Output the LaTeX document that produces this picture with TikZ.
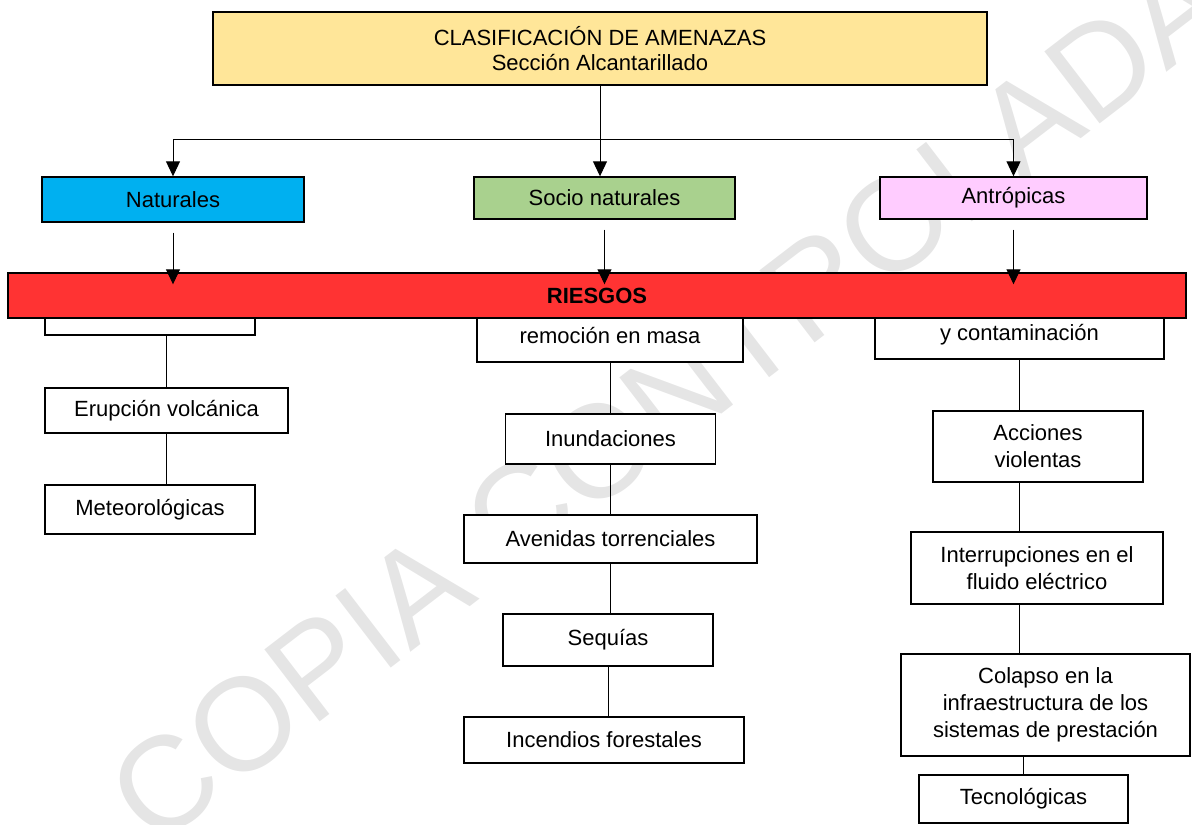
\documentclass[tikz,border=0pt]{standalone}
\usepackage{fontspec}
\setmainfont{Liberation Sans}
\usetikzlibrary{arrows.meta}

\definecolor{titleyellow}{HTML}{FFE699}
\definecolor{natblue}{HTML}{00B0F0}
\definecolor{socgreen}{HTML}{A9D18E}
\definecolor{antpink}{HTML}{FFCCFF}
\definecolor{riskred}{HTML}{FF3333}

\begin{document}
\begin{tikzpicture}[x = 0.5pt, y = -0.5pt,
  box/.style = {draw, shape = rectangle, fill = white, line width = 0.7pt, inner sep = 0pt, align = center, font = \fontsize{11}{13.5}\selectfont},
  link/.style = {line width = 0.5pt},
  arr/.style = {link, -{Triangle[length = 7.5pt, width = 7pt]}}]
\useasboundingbox (0,0) rectangle (1192,824);
% watermark behind everything
\node[rotate = 37.5, text = gray!20, font = \fontsize{66}{66}\selectfont] (mark) at (668,398) {COPIA CONTROLADA};

\node[box, fill = titleyellow, minimum width = 387pt, minimum height = 36.5pt, font = \fontsize{11}{12.6}\selectfont] (title) at (600,48.5) {CLASIFICACIÓN DE AMENAZAS\\Sección Alcantarillado};
\node[box, fill = natblue, minimum width = 131pt, minimum height = 22.5pt] (nat) at (173,199.5) {Naturales};
\node[box, fill = socgreen, minimum width = 130.5pt, minimum height = 21pt] (soc) at (604.5,198) {Socio naturales};
\node[box, fill = antpink, minimum width = 133.5pt, minimum height = 21pt] (ant) at (1013.5,198) {Antrópicas};

% boxes half covered by the red band
\node[box, minimum width = 105pt, minimum height = 22.5pt] (lhid) at (150,312.5) {};
\node[box, minimum width = 133pt, minimum height = 26pt] (mhid) at (610,336) {remoción en masa};
\node[box, minimum width = 144.5pt, minimum height = 24pt] (rhid) at (1019.5,335) {y contaminación};
\node[box, fill = riskred, minimum width = 589pt, minimum height = 22.5pt, font = \fontsize{11}{13.5}\selectfont\bfseries] (riesgos) at (597,295.5) {RIESGOS};

% naturales
\node[box, minimum width = 121.5pt, minimum height = 22.5pt] (erup) at (166.5,410.5) {Erupción volcánica};
\node[box, minimum width = 105pt, minimum height = 24.5pt] (meteo) at (150,509.5) {Meteorológicas};
% socio naturales
\node[box, minimum width = 105pt, minimum height = 25pt] (inun) at (610.5,439) {Inundaciones};
\node[box, minimum width = 146.5pt, minimum height = 24pt] (aven) at (610.5,539) {Avenidas torrenciales};
\node[box, minimum width = 105pt, minimum height = 26pt] (seq) at (608,640) {Sequías};
\node[box, minimum width = 140pt, minimum height = 23pt] (inc) at (604,740) {Incendios forestales};
% antropicas
\node[box, minimum width = 105pt, minimum height = 35.5pt] (acc) at (1038,446.5) {Acciones\\violentas};
\node[box, minimum width = 126pt, minimum height = 36pt] (intr) at (1037,568) {Interrupciones en el\\fluido eléctrico};
\node[box, minimum width = 144.5pt, minimum height = 51pt] (col) at (1045.5,705) {Colapso en la\\infraestructura de los\\sistemas de prestación};
\node[box, minimum width = 104.5pt, minimum height = 24pt] (tec) at (1023.5,799) {Tecnológicas};

% top split
\coordinate (split) at (600,139);
\draw[link] (title) -- (split);
\draw[arr] (split) -| (nat.north);
\draw[arr] (split) -- (split |- soc.north);
\draw[arr] (split) -| (ant.north);
\foreach \n in {nat, soc, ant}
  \draw[arr, shorten <= 5pt, shorten >= -6pt] (\n.south) -- (\n.south |- riesgos.north);

% chains
\draw[link] (erup.north) -- (erup.north |- lhid.south);
\draw[link] (erup.south) -- (erup.south |- meteo.north);
\draw[link] (inun.north) -- (inun.north |- mhid.south);
\draw[link] (inun.south) -- (inun.south |- aven.north);
\draw[link] (aven.south) -- (aven.south |- seq.north);
\draw[link] (seq.south) -- (seq.south |- inc.north);
\draw[link] (rhid.south) -- (rhid.south |- acc.north);
\draw[link] (acc.south -| rhid.south) -- (intr.north -| rhid.south);
\draw[link] (intr.south -| rhid.south) -- (col.north -| rhid.south);
\draw[link] (col.south -| tec.north) -- (tec.north);
\end{tikzpicture}
\end{document}
